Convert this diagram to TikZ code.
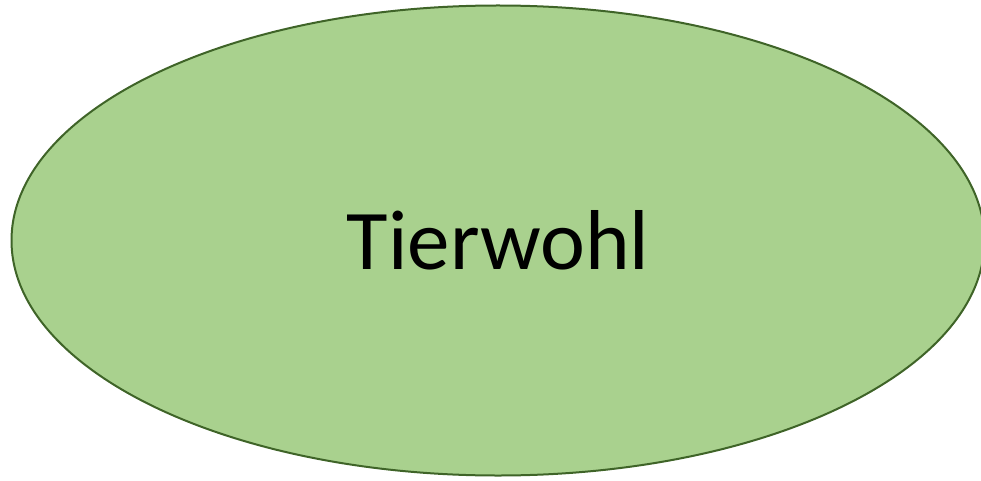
\documentclass[tikz,border=0pt]{standalone}
\usepackage{fontspec}
\setmainfont{Carlito}
\usetikzlibrary{shapes.geometric}
\definecolor{leafgreen}{HTML}{A9D18E}
\definecolor{leafedge}{HTML}{3F6428}
\begin{document}
\begin{tikzpicture}[x=1pt,y=1pt]
\useasboundingbox (0,0) rectangle (981,480);
\node[ellipse, draw=leafedge, fill=leafgreen, line width=2pt,
      minimum width=973pt, minimum height=470pt, inner sep=0pt,
      font=\fontsize{85}{90}\selectfont] (welfare) at (498,239.5) {Tierwohl};
\end{tikzpicture}
\end{document}
